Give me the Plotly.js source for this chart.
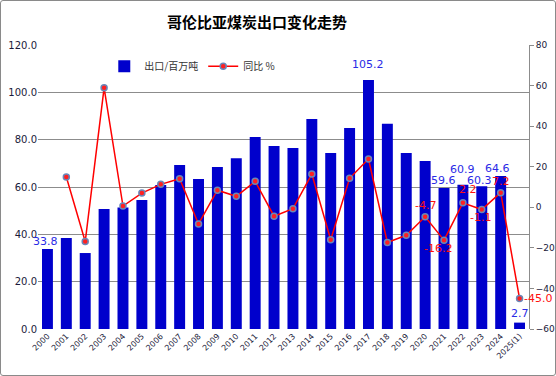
<!DOCTYPE html>
<html><head><meta charset="utf-8">
<script src="https://cdn.plot.ly/plotly-3.0.1.min.js"></script>
<style>
body{margin:0;padding:0;background:#fff;}
#wrap{position:relative;width:556px;height:376px;}
#chart{position:absolute;left:0;top:0;width:556px;height:376px;}
#frame{position:absolute;left:0;top:0;width:556px;height:376px;box-sizing:border-box;border:1px solid #8a8a8a;border-radius:3px;pointer-events:none;}
</style></head>
<body>
<div id="wrap"><div id="chart"></div><div id="frame"></div></div>
<script>
const years = ["2000","2001","2002","2003","2004","2005","2006","2007","2008","2009","2010","2011","2012","2013","2014","2015","2016","2017","2018","2019","2020","2021","2022","2023","2024","2025(1)"];
const exportMt = [33.8,38.4,32.1,50.7,51.3,54.5,60.8,69.3,63.4,68.4,72.2,81.1,77.3,76.5,88.7,74.4,84.9,105.2,86.7,74.4,71.0,59.6,60.9,60.3,64.6,2.7];
const yoyPct = [null,14.9,-16.9,58.9,0.6,7.0,11.3,14.1,-8.2,8.4,5.4,12.8,-4.4,-0.7,16.4,-16.0,14.3,23.8,-17.3,-13.8,-4.7,-16.2,2.2,-1.1,7.2,-45.0];
const barLabelIdx = [0,17,21,22,23,24,25];
const lineLabelIdx = [20,21,22,23,24,25];

// label offsets (px) — styling only
const barShift = {0:[-2,8],17:[0,16],21:[-1,7],22:[0,15],23:[-2,6],24:[-3,8],25:[0,9]};
const lineShift = {20:[0,11],21:[-6,-8],22:[5,13],23:[-1,-8],24:[0,11],25:[18,0]};

const annotations = [];
barLabelIdx.forEach(i=>{
  annotations.push({x:i,y:exportMt[i],xref:'x',yref:'y',text:exportMt[i].toFixed(1),showarrow:false,
    xshift:barShift[i][0],yshift:barShift[i][1],yanchor:'middle',
    font:{family:'DejaVu Sans, sans-serif',size:11,color:'#2a2ae6'}});
});
lineLabelIdx.forEach(i=>{
  annotations.push({x:i,y:yoyPct[i],xref:'x',yref:'y2',text:yoyPct[i].toFixed(1),showarrow:false,
    xshift:lineShift[i][0],yshift:lineShift[i][1],yanchor:'middle',
    font:{family:'DejaVu Sans, sans-serif',size:11,color:'#ff1010'}});
});

const traces = [
  {type:'bar',name:'出口/百万吨',x:years,y:exportMt,marker:{color:'#0000cc'},yaxis:'y',hoverinfo:'skip'},
  {type:'scatter',mode:'lines+markers',name:'同比 %',x:years,y:yoyPct,yaxis:'y2',
   line:{color:'#ff0000',width:1.5},
   marker:{symbol:'circle',size:6,color:'#ff2020',line:{color:'#6a86b8',width:1.5}},connectgaps:false}
];

const layout = {
  width:556,height:376,
  margin:{l:38,r:27,t:45,b:47},
  paper_bgcolor:'#ffffff',plot_bgcolor:'#ffffff',
  title:{text:'<b>哥伦比亚煤炭出口变化走势</b>',x:257/556,xanchor:'center',y:1-23/376,yanchor:'middle',
    font:{family:'"Noto Sans CJK SC", sans-serif',size:15,color:'#000'}},
  bargap:0.42,
  showlegend:true,
  legend:{orientation:'h',x:0.135,xanchor:'left',y:0.925,yanchor:'middle',bgcolor:'rgba(0,0,0,0)',
    font:{family:'"Noto Sans CJK SC", sans-serif',size:10,color:'#333'},itemwidth:30,tracegroupgap:0},
  xaxis:{type:'category',range:[-0.5,25.5],autorange:false,tickangle:-45,tickfont:{family:'DejaVu Sans, sans-serif',size:8,color:'#1a1a3a'},
    showline:false,ticks:'',showgrid:false,zeroline:false},
  yaxis:{range:[0,120],dtick:20,tickformat:'.1f',showgrid:true,gridcolor:'#8c8c8c',gridwidth:1,
    showline:false,ticks:'',zeroline:false,
    tickfont:{family:'DejaVu Sans, sans-serif',size:10,color:'#1a1a3a'}},
  yaxis2:{overlaying:'y',side:'right',range:[-60,80],dtick:20,showgrid:false,zeroline:false,
    showline:true,linecolor:'#8c8c8c',linewidth:1,ticks:'outside',ticklen:4,tickcolor:'#8c8c8c',
    tickfont:{family:'DejaVu Sans, sans-serif',size:9,color:'#1a1a3a'}},
  annotations:annotations
};
Plotly.newPlot('chart',traces,layout,{displayModeBar:false,staticPlot:true});
</script>
</body></html>
